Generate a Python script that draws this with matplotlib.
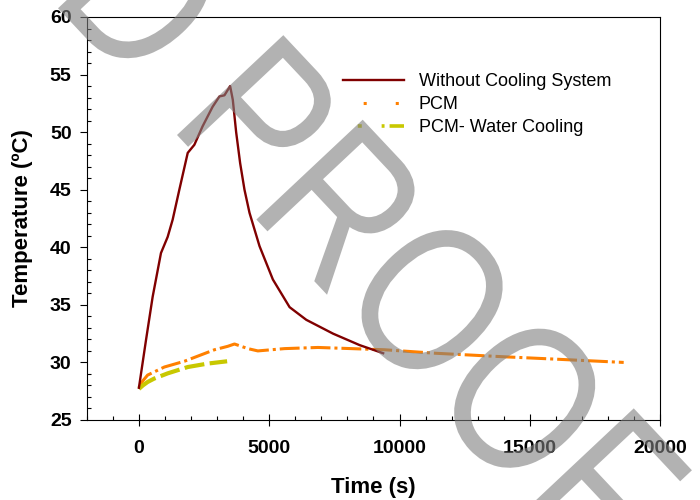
import numpy as np
import matplotlib
matplotlib.use('Agg')
import matplotlib.pyplot as plt
from matplotlib.ticker import MultipleLocator
from matplotlib.lines import Line2D
from matplotlib.textpath import TextPath
from matplotlib.font_manager import FontProperties
from matplotlib.patches import PathPatch
from matplotlib.transforms import Affine2D

plt.rcParams['font.family'] = ['Liberation Sans', 'DejaVu Sans']

# time (s) and temperature (C)
NO_COOL_T = [0, 269, 527, 846, 1103, 1295, 1551, 1873, 2127, 2442, 2827, 3090, 3282, 3500,
             3603, 3731, 3885, 4051, 4243, 4628, 5141, 5782, 6423, 7450, 8474, 9372]
NO_COOL_Y = [27.8, 31.9, 35.7, 39.5, 40.9, 42.4, 45.0, 48.2, 48.9, 50.5, 52.2, 53.1, 53.2, 54.0,
             52.8, 50.0, 47.3, 45.0, 43.0, 40.1, 37.2, 34.8, 33.7, 32.5, 31.5, 30.8]

PCM_T = [0, 150, 333, 975, 1743, 2897, 3410, 3667, 4180, 4564, 5590, 6872, 8150, 9432,
         11360, 13923, 15846, 18603]
PCM_Y = [27.8, 28.4, 28.9, 29.6, 30.1, 31.1, 31.4, 31.6, 31.2, 31.0, 31.2, 31.3, 31.2, 31.1,
         30.8, 30.5, 30.3, 30.0]

WATER_T = [0, 150, 333, 590, 1103, 1873, 2640, 3385]
WATER_Y = [27.7, 28.0, 28.3, 28.6, 29.05, 29.6, 29.9, 30.1]

LABELS = ['Without Cooling System', 'PCM', 'PCM- Water Cooling']
RED = '#800000'
ORANGE = '#ff8000'
YELLOW = '#c8c800'
WATERMARK = 'UNCORRECTED PROOF'


def addWatermark(fig):
    # narrow sans text: squeeze Liberation Sans to 82% width, then rotate
    prop = FontProperties(family='Liberation Sans')
    size = 212
    tp = TextPath((0, 0), WATERMARK, size=size, prop=prop)
    # left ink edge of the 'P' of PROOF, used as anchor
    pExt = TextPath((0, 0), 'P', size=size, prop=prop).get_extents()
    pLeft = TextPath((0, 0), 'UNCORRECTED P', size=size, prop=prop).get_extents().x1 - pExt.width
    tr = Affine2D().translate(-pLeft, 0).scale(0.82, 1).rotate_deg(-46.8).translate(177, 500 - 135)
    patch = PathPatch(tp, transform=tr, facecolor=(0.5, 0.5, 0.5), edgecolor='none',
                      alpha=0.6, zorder=10)
    fig.add_artist(patch)


def main():
    fig = plt.figure(figsize=(7, 5), dpi=100)
    ax = fig.add_axes([0.124, 0.16, 0.819, 0.806])

    ax.plot(NO_COOL_T, NO_COOL_Y, color=RED, lw=1.7, solid_joinstyle='round', zorder=3)
    ax.plot(PCM_T, PCM_Y, color=ORANGE, lw=2.2, dashes=(6.5, 1.3, 1.0, 1.3), zorder=2)
    ax.plot(WATER_T, WATER_Y, color=YELLOW, lw=3.0, dashes=(4.8, 1.3), zorder=2)

    ax.set_xlim(-2000, 20000)
    ax.set_ylim(25, 60)
    ax.xaxis.set_major_locator(MultipleLocator(5000))
    ax.xaxis.set_minor_locator(MultipleLocator(1000))
    ax.yaxis.set_major_locator(MultipleLocator(5))
    ax.yaxis.set_minor_locator(MultipleLocator(1))

    ax.tick_params(axis='x', which='major', direction='inout', length=9, width=0.8,
                   labelsize=14, pad=10)
    ax.tick_params(axis='y', which='major', direction='out', length=5, width=0.8,
                   labelsize=14, pad=6)
    ax.tick_params(which='minor', direction='in', length=3, width=0.8)
    for lab in ax.get_xticklabels() + ax.get_yticklabels():
        lab.set_fontweight('bold')
    for sp in ax.spines.values():
        sp.set_linewidth(0.8)

    ax.set_xlabel('Time (s)', fontsize=16, fontweight='bold', labelpad=14)
    ax.set_ylabel('Temperature (ºC)', fontsize=16, fontweight='bold', labelpad=12)

    # legend handles drawn like the original (sparse dots, broken dashes)
    handles = [Line2D([], [], color=RED, lw=1.7),
               Line2D([], [], color=ORANGE, lw=2.2, linestyle=(3.9, (1.0, 9.5)),
                      dash_capstyle='butt'),
               Line2D([], [], color=YELLOW, lw=2.6,
                      linestyle=(13.9, (1.1, 5.5, 0.8, 1.4, 4.2, 5.0)),
                      dash_capstyle='butt')]
    ax.legend(handles, LABELS, loc='upper left', bbox_to_anchor=(0.49, 0.853),
              bbox_transform=fig.transFigure, frameon=False, fontsize=13,
              handlelength=3.4, handletextpad=0.8, labelspacing=0.33,
              borderpad=0, borderaxespad=0)

    addWatermark(fig)

    fig.savefig('out.png', dpi=100)
    plt.close(fig)


if __name__ == "__main__":
    main()
